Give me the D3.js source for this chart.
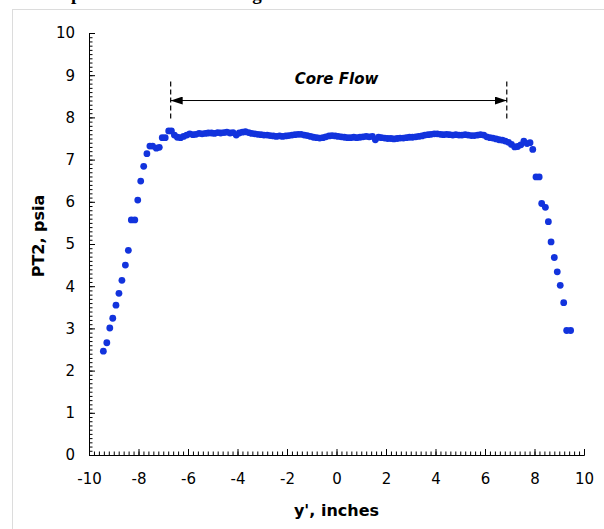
<!DOCTYPE html>
<html>
<head>
<meta charset="utf-8">
<script src="https://cdn.jsdelivr.net/npm/d3@7"></script>
<style>
  body { margin: 0; background: #fff; }
  .tick text { font-family: "DejaVu Sans", Verdana, sans-serif; font-size: 15px; fill: #000; }
  .axis path, .axis line { stroke: #000; }
</style>
</head>
<body>
<script>
// y' position across the section, inches
var xInches = [
  -9.42, -9.28, -9.16, -9.04, -8.91, -8.79, -8.67, -8.53, -8.41, -8.29,
  -8.15, -8.03, -7.91, -7.79, -7.66, -7.54, -7.43, -7.28, -7.16, -7.04,
  -6.92, -6.78, -6.67,
  -6.55, -6.43, -6.30, -6.18, -6.05, -5.93, -5.80, -5.68, -5.55, -5.43,
  -5.30, -5.18, -5.05, -4.93, -4.80, -4.68, -4.55, -4.43, -4.30, -4.18,
  -4.05, -3.93, -3.80, -3.68, -3.55, -3.43, -3.30, -3.18, -3.05, -2.93,
  -2.80, -2.68, -2.55, -2.43, -2.30, -2.18, -2.05, -1.93, -1.80, -1.68,
  -1.55, -1.43, -1.30, -1.18, -1.05, -0.93, -0.80, -0.68, -0.55, -0.43,
  -0.30, -0.18, -0.05, 0.07, 0.20, 0.32, 0.45, 0.57, 0.70, 0.82,
  0.95, 1.07, 1.20, 1.32, 1.45, 1.57, 1.70, 1.82, 1.95, 2.07,
  2.20, 2.32, 2.45, 2.57, 2.70, 2.82, 2.95, 3.07, 3.20, 3.32,
  3.45, 3.57, 3.70, 3.82, 3.95, 4.07, 4.20, 4.32, 4.45, 4.57,
  4.70, 4.82, 4.95, 5.07, 5.20, 5.32, 5.45, 5.57, 5.70, 5.82,
  5.95, 6.07, 6.20, 6.32, 6.45, 6.57, 6.70, 6.82, 6.95, 7.07,
  7.20, 7.32, 7.45, 7.57, 7.70, 7.82, 7.93,
  8.06, 8.19, 8.29, 8.44, 8.56, 8.67, 8.80, 8.92, 9.04, 9.18,
  9.30, 9.46
];

// PT2 pressure, psia
var pt2 = [
  2.46, 2.66, 3.01, 3.24, 3.55, 3.83, 4.14, 4.50, 4.85, 5.57,
  5.57, 6.04, 6.49, 6.84, 7.14, 7.32, 7.32, 7.27, 7.29, 7.52,
  7.52, 7.68, 7.68,
  7.58, 7.53, 7.52, 7.55, 7.58, 7.61, 7.59, 7.60, 7.62, 7.61,
  7.62, 7.63, 7.63, 7.62, 7.64, 7.63, 7.64, 7.65, 7.63, 7.64,
  7.58, 7.63, 7.65, 7.66, 7.64, 7.62, 7.61, 7.60, 7.59, 7.58,
  7.58, 7.57, 7.56, 7.55, 7.56, 7.55, 7.56, 7.57, 7.58, 7.59,
  7.60, 7.60, 7.58, 7.57, 7.55, 7.53, 7.52, 7.51, 7.52, 7.54,
  7.56, 7.57, 7.56, 7.55, 7.54, 7.53, 7.52, 7.52, 7.53, 7.52,
  7.53, 7.54, 7.55, 7.54, 7.55, 7.47, 7.53, 7.52, 7.51, 7.50,
  7.50, 7.49, 7.50, 7.51, 7.51, 7.52, 7.53, 7.53, 7.54, 7.55,
  7.56, 7.58, 7.59, 7.60, 7.61, 7.61, 7.60, 7.59, 7.60, 7.59,
  7.58, 7.59, 7.58, 7.58, 7.59, 7.58, 7.57, 7.57, 7.58, 7.59,
  7.58, 7.54, 7.52, 7.51, 7.49, 7.47, 7.46, 7.44, 7.41, 7.36,
  7.30, 7.31, 7.35, 7.44, 7.38, 7.40, 7.24,
  6.59, 6.59, 5.96, 5.87, 5.53, 5.05, 4.68, 4.34, 4.02, 3.61,
  2.95, 2.95
];

var xTicks = [-10, -8, -6, -4, -2, 0, 2, 4, 6, 8, 10];
var yTicks = [0, 1, 2, 3, 4, 5, 6, 7, 8, 9, 10];

// core flow annotation: edges (inches), label
var coreEdges = [-6.70, 6.88];
var coreLabel = "Core Flow";

var data = xInches.map(function(d, i) { return {x: d, y: pt2[i]}; });

var width = 604, height = 529;

var svg = d3.select("body")
    .append("svg")
    .attr("width", width)
    .attr("height", height);

// frame of the chart area (partly cropped in the picture)
svg.append("rect")
    .attr("x", 12.5).attr("y", 9.5)
    .attr("width", 800).attr("height", 600)
    .attr("fill", "none")
    .attr("stroke", "#dcdcdc");

// title above the frame, cropped by the top edge as in the picture
svg.append("text")
    .attr("x", 35).attr("y", 0)
    .attr("font-family", "Liberation Serif, serif")
    .attr("font-weight", "bold")
    .attr("font-size", 19)
    .text("Sample PT2 Traverse Along Test Section");

var x = d3.scaleLinear().domain([-10, 10]).range([89, 584]);
var y = d3.scaleLinear().domain([0, 10]).range([455, 33]);

var plain = function(d) { return String(d); };

// minor ticks
svg.append("g")
    .attr("class", "axis")
    .attr("transform", "translate(0,455)")
    .call(d3.axisBottom(x).tickValues(d3.range(-10, 10.01, 0.2))
        .tickFormat("").tickSizeInner(-3.5).tickSizeOuter(0));
svg.append("g")
    .attr("class", "axis")
    .attr("transform", "translate(89,0)")
    .call(d3.axisLeft(y).tickValues(d3.range(0, 10.01, 0.1))
        .tickFormat("").tickSizeInner(-3.5).tickSizeOuter(0));

// major ticks + labels
svg.append("g")
    .attr("class", "axis")
    .attr("transform", "translate(0,455)")
    .call(d3.axisBottom(x).tickValues(xTicks).tickFormat(plain)
        .tickSizeInner(-6).tickSizeOuter(0).tickPadding(18));
svg.append("g")
    .attr("class", "axis")
    .attr("transform", "translate(89,0)")
    .call(d3.axisLeft(y).tickValues(yTicks).tickFormat(plain)
        .tickSizeInner(-6).tickSizeOuter(0).tickPadding(14));

// axis titles
svg.append("text")
    .attr("x", x(0)).attr("y", 516)
    .attr("text-anchor", "middle")
    .attr("font-family", "DejaVu Sans, Verdana, sans-serif")
    .attr("font-weight", "bold")
    .attr("font-size", 16)
    .text("y', inches");
svg.append("text")
    .attr("transform", "translate(44,236) rotate(-90)")
    .attr("text-anchor", "middle")
    .attr("font-family", "DejaVu Sans, Verdana, sans-serif")
    .attr("font-weight", "bold")
    .attr("font-size", 16)
    .text("PT2, psia");

// points
svg.append("g")
    .selectAll("circle")
    .data(data)
    .enter().append("circle")
    .attr("cx", function(d) { return x(d.x); })
    .attr("cy", function(d) { return y(d.y); })
    .attr("r", 3.4)
    .attr("fill", "#1233dd");

// core flow annotation
var defs = svg.append("defs");
defs.append("marker")
    .attr("id", "head")
    .attr("viewBox", "0 0 12 8")
    .attr("refX", 12).attr("refY", 4)
    .attr("markerWidth", 12).attr("markerHeight", 8)
    .attr("markerUnits", "userSpaceOnUse")
    .attr("orient", "auto-start-reverse")
    .append("path")
    .attr("d", "M0,0L12,4L0,8Z")
    .attr("fill", "#000");

svg.selectAll(".edge")
    .data(coreEdges)
    .enter().append("line")
    .attr("class", "edge")
    .attr("x1", function(d) { return x(d); })
    .attr("x2", function(d) { return x(d); })
    .attr("y1", y(8.85)).attr("y2", y(7.9))
    .attr("stroke", "#000")
    .attr("stroke-width", 1.2)
    .attr("stroke-dasharray", "5,3");

svg.append("line")
    .attr("x1", x(coreEdges[0])).attr("x2", x(coreEdges[1]))
    .attr("y1", y(8.4)).attr("y2", y(8.4))
    .attr("stroke", "#000")
    .attr("stroke-width", 1)
    .attr("marker-start", "url(#head)")
    .attr("marker-end", "url(#head)");

svg.append("text")
    .attr("x", x(0)).attr("y", y(8.78))
    .attr("text-anchor", "middle")
    .attr("font-family", "DejaVu Sans, Verdana, sans-serif")
    .attr("font-weight", "bold")
    .attr("font-style", "italic")
    .attr("font-size", 15)
    .text(coreLabel);
</script>
</body>
</html>
